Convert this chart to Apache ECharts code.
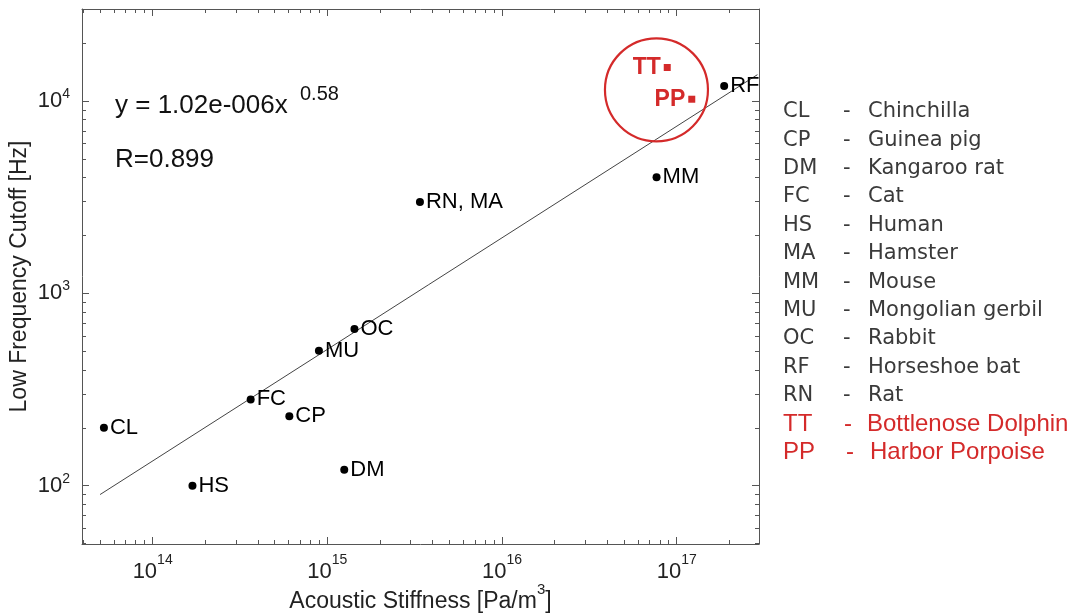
<!DOCTYPE html>
<html><head><meta charset="utf-8">
<script src="https://cdn.jsdelivr.net/npm/echarts@6/dist/echarts.min.js"></script>
<style>html,body{margin:0;padding:0;background:#fff}#c{width:1072px;height:615px}</style>
</head><body><div id="c"></div>
<script>
// ---- data ----
const speciesLabels = ['CL', 'HS', 'FC', 'CP', 'MU', 'OC', 'DM', 'RN, MA', 'MM', 'RF'];
const stiffness = [5.26e13, 1.69e14, 3.64e14, 6.06e14, 8.95e14, 1.43e15, 1.25e15, 3.39e15, 7.67e16, 1.87e17];
const cutoff = [200, 100, 281, 230, 503, 652, 121, 2980, 4010, 11970];

const cetaceanLabels = ['TT', 'PP'];
const cetaceanStiffness = [8.83e16, 1.22e17];
const cetaceanCutoff = [14930, 10210];

const fitStiffness = [5.0e13, 2.9e17];
const fitCutoff = [90, 13700];

const highlightCenter = [7.66e16, 11430];

const xTickExps = [14, 15, 16, 17];
const yTickExps = [2, 3, 4];
const xRange = [3.94e13, 2.96e17];
const yRange = [49.8, 30060];

const legendCodes = ['CL', 'CP', 'DM', 'FC', 'HS', 'MA', 'MM', 'MU', 'OC', 'RF', 'RN', 'TT', 'PP'];
const legendNames = ['Chinchilla', 'Guinea pig', 'Kangaroo rat', 'Cat', 'Human', 'Hamster', 'Mouse',
  'Mongolian gerbil', 'Rabbit', 'Horseshoe bat', 'Rat', 'Bottlenose Dolphin', 'Harbor Porpoise'];
const legendRed = [false, false, false, false, false, false, false, false, false, false, false, true, true];

const equationText = 'y = 1.02e-006x';
const equationExp = '0.58';
const rText = 'R=0.899';

// ---- build ----
const L = Math.log10;
const RED = '#d42a2a';
const AX = '#555';
const FONT = '"Liberation Sans", Arial, sans-serif';
const xMinL = L(xRange[0]), xMaxL = L(xRange[1]);
const yMinL = L(yRange[0]), yMaxL = L(yRange[1]);

function minorTicks(lo, hi) {
  const out = [];
  for (let e = Math.floor(lo); e <= Math.ceil(hi); e++) {
    for (let k = 2; k <= 9; k++) {
      const v = e + L(k);
      if (v > lo && v < hi) out.push(v);
    }
  }
  return out;
}

const gridRect = { left: 82, right: 313, top: 9, bottom: 71, outerBoundsMode: 'none' };

function makeAxis(kind, gridIndex, position, ticks, len, showLine, label, name) {
  const ax = {
    type: 'value', gridIndex, position,
    min: kind === 'x' ? xMinL : yMinL,
    max: kind === 'x' ? xMaxL : yMaxL,
    axisLine: { show: showLine, lineStyle: { color: AX, width: 1 } },
    axisTick: { show: true, inside: true, length: len, customValues: ticks, lineStyle: { color: AX, width: 1 } },
    axisLabel: label || { show: false },
    splitLine: { show: false }
  };
  if (name) Object.assign(ax, name);
  return ax;
}

const xLabel = {
  show: true, customValues: xTickExps, margin: 9,
  formatter: v => '{b|10}{s|' + Math.round(v) + '}',
  rich: {
    b: { fontSize: 22, fontFamily: FONT, color: '#222' },
    s: { fontSize: 14, fontFamily: FONT, color: '#222', padding: [0, 0, 23, 0] }
  }
};
const yLabel = {
  show: true, customValues: yTickExps, margin: 12,
  formatter: v => '{b|10}{s|' + Math.round(v) + '}',
  rich: {
    b: { fontSize: 22, fontFamily: FONT, color: '#222' },
    s: { fontSize: 14, fontFamily: FONT, color: '#222', padding: [0, 0, 14, 0] }
  }
};

const xMinor = minorTicks(xMinL, xMaxL);
const yMinor = minorTicks(yMinL, yMaxL);

const xAxes = [
  makeAxis('x', 0, 'bottom', xTickExps, 7, true, xLabel, {
    name: 'Acoustic Stiffness [Pa/m{s|3}]', nameLocation: 'middle', nameGap: 58, nameMoveOverlap: false,
    nameTextStyle: { fontSize: 23, fontFamily: FONT, color: '#222', verticalAlign: 'middle',
      rich: { s: { fontSize: 15, fontFamily: FONT, color: '#222', padding: [0, 0, 24, 0] } } }
  }),
  makeAxis('x', 0, 'top', xTickExps, 7, true, null),
  makeAxis('x', 1, 'bottom', xMinor, 4, false, null),
  makeAxis('x', 1, 'top', xMinor, 4, false, null)
];
const yAxes = [
  makeAxis('y', 0, 'left', yTickExps, 7, true, yLabel, {
    name: 'Low Frequency Cutoff [Hz]', nameLocation: 'middle', nameGap: 62, nameRotate: 90, nameMoveOverlap: false,
    nameTextStyle: { fontSize: 23, fontFamily: FONT, color: '#222', verticalAlign: 'middle' }
  }),
  makeAxis('y', 0, 'right', yTickExps, 7, true, null),
  makeAxis('y', 1, 'left', yMinor, 4, false, null),
  makeAxis('y', 1, 'right', yMinor, 4, false, null)
];

const graphics = [];
const rowY0 = 111.7, rowStep = 28.4;
legendCodes.forEach((code, i) => {
  const red = legendRed[i];
  const y = rowY0 + i * rowStep;
  const font = red ? '24px "Liberation Sans", Arial, sans-serif' : '21px "DejaVu Sans", sans-serif';
  const fill = red ? RED : '#3a3a3a';
  graphics.push({ type: 'text', x: 783, y, style: { text: code, font, fill, verticalAlign: 'middle' } });
  graphics.push({ type: 'text', x: red ? 844 + (i === 12 ? 2 : 0) : 843, y, style: { text: '-', font, fill, verticalAlign: 'middle' } });
  graphics.push({ type: 'text', x: red ? (i === 12 ? 870 : 867) : 868, y, style: { text: legendNames[i], font, fill, verticalAlign: 'middle' } });
});
graphics.push({ type: 'text', x: 115, y: 106, style: { text: equationText, font: '26px ' + FONT, fill: '#111', verticalAlign: 'middle' } });
graphics.push({ type: 'text', x: 300, y: 94, style: { text: equationExp, font: '20px ' + FONT, fill: '#111', verticalAlign: 'middle' } });
graphics.push({ type: 'text', x: 115, y: 160, style: { text: rText, font: '26px ' + FONT, fill: '#111', verticalAlign: 'middle' } });

const option = {
  animation: false,
  backgroundColor: '#fff',
  grid: [Object.assign({}, gridRect), Object.assign({}, gridRect)],
  xAxis: xAxes,
  yAxis: yAxes,
  graphic: graphics,
  series: [
    {
      type: 'line', xAxisIndex: 0, yAxisIndex: 0, symbol: 'none', silent: true,
      lineStyle: { color: '#444', width: 1 },
      data: fitStiffness.map((x, i) => [L(x), L(fitCutoff[i])]),
      z: 1
    },
    {
      type: 'scatter', xAxisIndex: 0, yAxisIndex: 0, symbol: 'circle', symbolSize: 103, silent: true,
      itemStyle: { color: 'rgba(0,0,0,0)', borderColor: RED, borderWidth: 2.2, opacity: 1 },
      data: [[L(highlightCenter[0]), L(highlightCenter[1])]],
      z: 2
    },
    {
      type: 'scatter', xAxisIndex: 0, yAxisIndex: 0, symbol: 'circle', symbolSize: 8,
      itemStyle: { color: '#000', opacity: 1 },
      label: { show: true, position: 'right', distance: 2, formatter: p => p.value[2],
        fontSize: 22, fontFamily: FONT, color: '#000', opacity: 1 },
      data: stiffness.map((x, i) => [L(x), L(cutoff[i]), speciesLabels[i]]),
      z: 3
    },
    {
      type: 'scatter', xAxisIndex: 0, yAxisIndex: 0, symbol: 'rect', symbolSize: 7,
      itemStyle: { color: RED, opacity: 1 },
      label: { show: true, position: 'left', distance: 3, formatter: p => p.value[2],
        fontSize: 23, fontWeight: 'bold', fontFamily: FONT, color: RED, opacity: 1 },
      data: cetaceanStiffness.map((x, i) => [L(x), L(cetaceanCutoff[i]), cetaceanLabels[i]]),
      z: 3
    }
  ]
};
const chart = echarts.init(document.getElementById('c'));
chart.setOption(option);
</script>
</body></html>
